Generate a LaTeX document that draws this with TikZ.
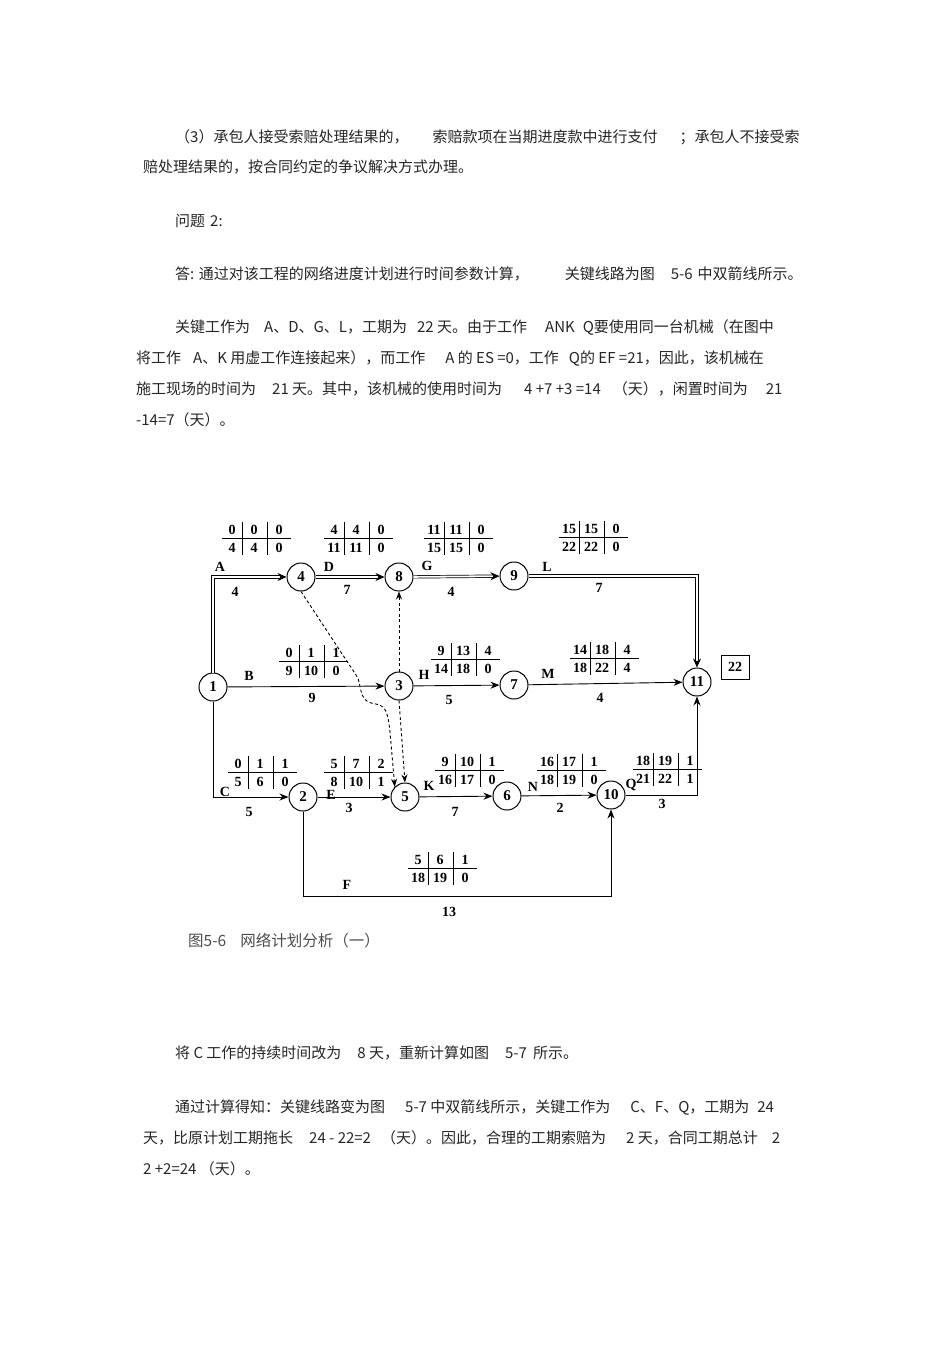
\documentclass[tikz,border=0pt]{standalone}
\usepackage{fontspec}
\setmainfont{Liberation Serif}
\newfontfamily\cjk{Noto Sans CJK SC}
\usetikzlibrary{arrows.meta}
\begin{document}
\begin{tikzpicture}[x=1pt,y=-1pt,
  ev/.style={circle,draw,line width=1pt,minimum size=28pt,inner sep=0pt,font=\fontsize{15}{15}\selectfont\bfseries},
  ar/.style={line width=0.9pt,-{Stealth[length=9pt,width=7pt]}},
  dbl/.style={double,line width=0.7pt,double distance=1.8pt},
  dbla/.style={dbl,-{Stealth[length=9pt,width=8pt]}},
  vir/.style={line width=0.9pt,dash pattern=on 3pt off 2.5pt,-{Stealth[length=8pt,width=6pt]}},
  lab/.style={font=\fontsize{14}{14}\selectfont\bfseries,inner sep=0pt},
  tb/.style={font=\fontsize{14}{14}\selectfont\bfseries,inner sep=0pt},
  txt/.style={anchor=west,inner sep=0pt,font=\cjk\fontsize{15}{15}\selectfont,text=black!85},
  capt/.style={anchor=west,inner sep=0pt,font=\cjk\fontsize{15.5}{15.5}\selectfont,text=black!70}]
\useasboundingbox (0,0) rectangle (950,1345);
\fill[white] (0,0) rectangle (950,1345);
\newcommand{\tbl}[8]{%
  \node[tb] at (#1-25,#2-8) {#3}; \node[tb] at (#1-3,#2-8) {#4}; \node[tb] at (#1+22,#2-8) {#5};
  \node[tb] at (#1-25,#2+10) {#6}; \node[tb] at (#1-3,#2+10) {#7}; \node[tb] at (#1+22,#2+10) {#8};
  \draw[line width=0.8pt] (#1-35,#2) -- (#1+34,#2) (#1-15,#2-16) -- (#1-15,#2+17) (#1+10,#2-16) -- (#1+10,#2+17);}
% text
\node[txt] (t1) at (175,137) {（3）承包人接受索赔处理结果的，\hspace{24pt}索赔款项在当期进度款中进行支付\hspace{22pt}；承包人不接受索};
\node[txt] (t2) at (143,167) {赔处理结果的，按合同约定的争议解决方式办理。};
\node[txt] (t3) at (175,221) {问题\hspace{5pt}2:};
\node[txt] (t4) at (175,274) {答: 通过对该工程的网络进度计划进行时间参数计算，\hspace{36pt}关键线路为图\hspace{16pt}5-6\hspace{5pt}中双箭线所示。};
\node[txt] (t5) at (175,327) {关键工作为\hspace{14pt}A、D、G、L，工期为\hspace{10pt}22 天。由于工作\hspace{18pt}ANK\hspace{8pt}Q要使用同一台机械（在图中};
\node[txt] (t6) at (136,358) {将工作\hspace{12pt}A、K 用虚工作连接起来），而工作\hspace{20pt}A 的 ES =0，工作\hspace{10pt}Q的 EF =21，因此，该机械在};
\node[txt] (t7) at (136,389) {施工现场的时间为\hspace{16pt}21 天。其中，该机械的使用时间为\hspace{22pt}4 +7 +3 =14\hspace{12pt}（天），闲置时间为\hspace{18pt}21};
\node[txt] (t8) at (136,420) {-14=7（天）。};
\node[txt] (t9) at (175,1053) {将 C 工作的持续时间改为\hspace{16pt}8 天，重新计算如图\hspace{16pt}5-7\hspace{6pt}所示。};
\node[txt] (t10) at (175,1107) {通过计算得知：关键线路变为图\hspace{20pt}5-7 中双箭线所示，关键工作为\hspace{20pt}C、F、Q，工期为\hspace{8pt}24};
\node[txt] (t11) at (143,1138) {天，比原计划工期拖长\hspace{16pt}24 - 22=2\hspace{10pt}（天）。因此，合理的工期索赔为\hspace{20pt}2 天，合同工期总计\hspace{14pt}2};
\node[txt] (t12) at (143,1169) {2 +2=24 （天）。};
% nodes
\node[ev] (n1) at (213,687) {1};
\node[ev] (n4) at (301,577) {4};
\node[ev] (n8) at (399,577) {8};
\node[ev] (n9) at (514,576) {9};
\node[ev] (n11) at (697,682) {11};
\node[ev] (n3) at (399,686) {3};
\node[ev] (n7) at (514,685) {7};
\node[ev] (n2) at (303,797) {2};
\node[ev] (n5) at (405,797) {5};
\node[ev] (n6) at (507,796) {6};
\node[ev] (n10) at (611,795) {10};
\node[draw,line width=0.9pt,minimum width=28pt,minimum height=24pt,inner sep=0pt,font=\fontsize{14}{14}\selectfont\bfseries] (b22) at (735,667) {22};
\coordinate (fy) at (0,896);
% arrows
\draw[dbla] (n1) |- (n4);
\draw[dbla] (n4) -- (n8);
\draw[dbla] (n8) -- (n9);
\draw[dbla] (n9) -| (n11);
\draw[ar] (n1) -- (n3);
\draw[ar] (n3) -- (n7);
\draw[ar] (n7) -- (n11);
\draw[ar] (n1) |- (n2);
\draw[ar] (n2) -- (n5);
\draw[ar] (n5) -- (n6);
\draw[ar] (n6) -- (n10);
\draw[ar] (n10) -| (n11);
\draw[ar] (n2) -- (n2 |- fy) -- (n10 |- fy) -- (n10);
\draw[vir] (n3.north) -- (n8.south);
\draw[vir] (n3.south) -- (n5.north);
\draw[vir] (n4.south) -- (358,678) .. controls (362,692) and (360,702) .. (376,704) .. controls (387,706) and (388,715) .. (390,732) -- (n5.north west);
% labels
\node[lab] at (220,567) {A}; \node[lab] at (329,567) {D}; \node[lab] at (427,566) {G}; \node[lab] at (547,567) {L};
\node[lab] at (249,676) {B}; \node[lab] at (424,675) {H}; \node[lab] at (548,674) {M};
\node[lab] at (225,792) {C}; \node[lab] at (331,795) {E}; \node[lab] at (429,786) {K};
\node[lab] at (533,787) {N}; \node[lab] at (631,785) {Q}; \node[lab] at (347,885) {F};
\node[lab] at (235,592) {4}; \node[lab] at (347,590) {7}; \node[lab] at (451,592) {4}; \node[lab] at (599,588) {7};
\node[lab] at (312,698) {9}; \node[lab] at (449,700) {5}; \node[lab] at (600,698) {4};
\node[lab] at (249,812) {5}; \node[lab] at (349,808) {3}; \node[lab] at (455,812) {7};
\node[lab] at (560,808) {2}; \node[lab] at (662,804) {3}; \node[lab] at (449,912) {13};
% tables
\tbl{257}{538}{0}{0}{0}{4}{4}{0}
\tbl{359}{538}{4}{4}{0}{11}{11}{0}
\tbl{459}{538}{11}{11}{0}{15}{15}{0}
\tbl{594}{537}{15}{15}{0}{22}{22}{0}
\tbl{314}{661}{0}{1}{1}{9}{10}{0}
\tbl{466}{659}{9}{13}{4}{14}{18}{0}
\tbl{605}{658}{14}{18}{4}{18}{22}{4}
\tbl{263}{772}{0}{1}{1}{5}{6}{0}
\tbl{359}{772}{5}{7}{2}{8}{10}{1}
\tbl{470}{770}{9}{10}{1}{16}{17}{0}
\tbl{572}{770}{16}{17}{1}{18}{19}{0}
\tbl{668}{769}{18}{19}{1}{21}{22}{1}
\tbl{443}{868}{5}{6}{1}{18}{19}{0}
\node[capt] (cp) at (188,941) {图5-6\hspace{14pt}网络计划分析（一）};
\end{tikzpicture}
\end{document}
